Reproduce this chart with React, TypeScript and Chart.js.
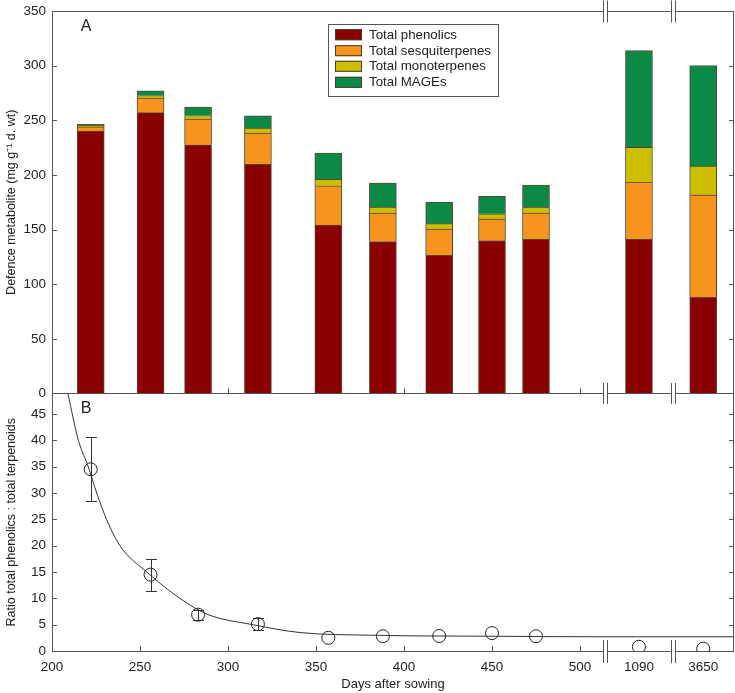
import React, { useEffect, useRef } from 'react';
import { Chart, registerables } from 'chart.js';

Chart.register(...registerables);

// ---------- data ----------
const days = [222, 256, 283, 317, 357, 388, 420, 450, 475, 1090, 3650];
const phenolics = [240, 257, 227.6, 209.6, 154, 139, 126.4, 140, 141, 141, 88];
const sesquiterpenes = [4, 13.3, 23.4, 28.7, 36, 26, 24, 19.6, 24, 52.5, 93.6];
const monoterpenes = [1.5, 2.4, 3.4, 4.6, 6, 5.6, 5, 4.8, 5.6, 31.7, 26.5];
const mages = [0.8, 4.3, 7.6, 11.1, 24, 22, 19.5, 16, 20, 88.6, 92];

const ratio = [34.5, 14.5, 6.9, 5.1, 2.5, 2.8, 2.85, 3.4, 2.8, 0.8, 0.45];
const ratioErrLow = [28.4, 11.3, 5.9, 4.0, null, null, null, null, null, null, null];
const ratioErrHigh = [40.6, 17.5, 7.8, 6.3, null, null, null, null, null, null, null];

// fitted curve (days, ratio)
const curveDays = [209, 215, 220.6, 225.4, 231, 238.6, 253.8, 272.7, 288, 314, 341, 381, 450, 514, 1090, 3650];
const curveRatio = [48.9, 40, 35, 30, 25, 20, 15, 10, 7, 5, 3.5, 3.0, 2.8, 2.7, 2.7, 2.7];

const xTickDays = [200, 250, 300, 350, 400, 450, 500, 1090, 3650];
const xTickLabels = ['200', '250', '300', '350', '400', '450', '500', '1090', '3650'];
const yATicks = [0, 50, 100, 150, 200, 250, 300, 350];
const yBTicks = [0, 5, 10, 15, 20, 25, 30, 35, 40, 45];

const seriesLabels = ['Total phenolics', 'Total sesquiterpenes', 'Total monoterpenes', 'Total MAGEs'];
const seriesColors = ['#8a0000', '#f7941e', '#cdbf00', '#0a8a45'];

// ---------- broken x axis ----------
const X_MIN = 200;
const X_MAX = 587.5;
const LINEAR_END = 514.2;
const breakMarks = [514.2, 552.8];
const longTermSlots: Record<number, number> = { 1090: 533.5, 3650: 570 };
const axisPos = (d: number) => (d <= LINEAR_END ? d : longTermSlots[d]);

const FONT = '"Liberation Sans", Arial, Helvetica, sans-serif';
const AXIS_COLOR = '#555';
const TEXT_COLOR = '#222';

const decorPlugin = {
  id: 'decor',
  beforeDatasetsDraw(chart: any) {
    const ctx = chart.ctx;
    const { left, right } = chart.chartArea;
    const x = chart.scales.x;
    const yA = chart.scales.yA;
    const yB = chart.scales.yB;
    ctx.save();
    ctx.strokeStyle = AXIS_COLOR;
    ctx.lineWidth = 1;
    const tl = 5;
    ctx.beginPath();
    for (const s of [yA, yB]) {
      for (const t of s.ticks) {
        const py = Math.round(s.getPixelForValue(t.value)) + 0.5;
        ctx.moveTo(left, py);
        ctx.lineTo(left + tl, py);
        ctx.moveTo(right, py);
        ctx.lineTo(right - tl, py);
      }
    }
    const yDiv = yA.getPixelForValue(0);
    const yBot = yB.getPixelForValue(0);
    for (const d of xTickDays) {
      if (d > LINEAR_END) continue;
      const px = Math.round(x.getPixelForValue(axisPos(d))) + 0.5;
      ctx.moveTo(px, yDiv);
      ctx.lineTo(px, yDiv - tl);
      ctx.moveTo(px, yBot);
      ctx.lineTo(px, yBot - tl);
    }
    ctx.stroke();

    // error bars
    ctx.strokeStyle = '#333';
    ctx.beginPath();
    days.forEach((d, i) => {
      const lo = ratioErrLow[i];
      const hi = ratioErrHigh[i];
      if (lo == null || hi == null) return;
      const px = Math.round(x.getPixelForValue(axisPos(d))) + 0.5;
      const pLo = Math.round(yB.getPixelForValue(lo)) + 0.5;
      const pHi = Math.round(yB.getPixelForValue(hi)) + 0.5;
      ctx.moveTo(px, pLo);
      ctx.lineTo(px, pHi);
      ctx.moveTo(px - 5.5, pLo);
      ctx.lineTo(px + 5.5, pLo);
      ctx.moveTo(px - 5.5, pHi);
      ctx.lineTo(px + 5.5, pHi);
    });
    ctx.stroke();
    ctx.restore();
  },
  afterDatasetsDraw(chart: any) {
    const ctx = chart.ctx;
    const { left, right, top } = chart.chartArea;
    const x = chart.scales.x;
    const yA = chart.scales.yA;
    const yB = chart.scales.yB;
    const yDiv = Math.round(yA.getPixelForValue(0)) + 0.5;
    const yBot = Math.round(yB.getPixelForValue(0)) + 0.5;
    const yTop = Math.round(top) + 0.5;
    const xl = Math.round(left) + 0.5;
    const xr = Math.round(right) - 0.5;
    ctx.save();
    ctx.strokeStyle = AXIS_COLOR;
    ctx.lineWidth = 1;
    ctx.beginPath();
    ctx.moveTo(xl, yTop);
    ctx.lineTo(xr, yTop);
    ctx.lineTo(xr, yBot);
    ctx.lineTo(xl, yBot);
    ctx.lineTo(xl, yTop);
    ctx.moveTo(xl, yDiv);
    ctx.lineTo(xr, yDiv);
    ctx.stroke();

    // axis breaks
    for (const b of breakMarks) {
      const px = Math.round(x.getPixelForValue(b));
      for (const [yy, h] of [[yTop, 11], [yDiv, 10.5], [yBot, 11.5]] as [number, number][]) {
        ctx.fillStyle = '#fff';
        ctx.fillRect(px - 1.5, yy - 1.5, 4, 3);
        ctx.beginPath();
        ctx.moveTo(px - 1.5, yy - h);
        ctx.lineTo(px - 1.5, yy + h);
        ctx.moveTo(px + 2.5, yy - h);
        ctx.lineTo(px + 2.5, yy + h);
        ctx.stroke();
      }
    }

    // panel letters
    ctx.fillStyle = TEXT_COLOR;
    ctx.font = `16px ${FONT}`;
    ctx.textAlign = 'center';
    ctx.textBaseline = 'middle';
    ctx.fillText('A', 86, yTop + 15);
    ctx.fillText('B', 86, yDiv + 15);

    // legend
    const lx = 328.5, ly = 24.5, lw = 170, lh = 72;
    ctx.fillStyle = '#fff';
    ctx.fillRect(lx, ly, lw, lh);
    ctx.strokeStyle = '#555';
    ctx.strokeRect(lx, ly, lw, lh);
    ctx.font = `13.3px ${FONT}`;
    ctx.textAlign = 'left';
    const rows = [34.7, 50.7, 66.3, 82.3];
    chart.data.datasets.slice(0, 4).forEach((ds: any, i: number) => {
      const cy = rows[i];
      ctx.fillStyle = ds.backgroundColor;
      ctx.fillRect(335, cy - 5.5, 27, 11);
      ctx.strokeStyle = '#4a3a2a';
      ctx.strokeRect(335.5, cy - 5, 26, 10);
      ctx.fillStyle = TEXT_COLOR;
      ctx.fillText(ds.label, 369, cy + 0.5);
    });
    ctx.restore();
  },
};

export default function App() {
  const ref = useRef<HTMLCanvasElement | null>(null);

  useEffect(() => {
    if (!ref.current) return;
    const barSets = [phenolics, sesquiterpenes, monoterpenes, mages].map((vals, i) => ({
      type: 'bar' as const,
      label: seriesLabels[i],
      data: days.map((d, j) => ({ x: axisPos(d), y: vals[j] })),
      backgroundColor: seriesColors[i],
      borderColor: 'rgba(60,40,25,0.85)',
      borderWidth: 1,
      barThickness: 27,
      stack: 'total',
      xAxisID: 'x',
      yAxisID: 'yA',
      order: 3,
    }));

    const chart = new Chart(ref.current, {
      type: 'bar',
      data: {
        datasets: [
          ...barSets,
          {
            type: 'line',
            label: 'fit',
            data: curveDays.map((d, j) => ({ x: axisPos(d), y: curveRatio[j] })).concat([{ x: X_MAX, y: curveRatio[curveRatio.length - 1] }]),
            borderColor: '#333',
            borderWidth: 1,
            pointRadius: 0,
            cubicInterpolationMode: 'monotone',
            fill: false,
            xAxisID: 'x',
            yAxisID: 'yB',
            order: 2,
          } as any,
          {
            type: 'line',
            label: 'ratio',
            data: days.map((d, j) => ({ x: axisPos(d), y: ratio[j] })),
            showLine: false,
            pointRadius: 6.5,
            pointBorderWidth: 1,
            pointBorderColor: '#222',
            pointBackgroundColor: 'rgba(255,255,255,0)',
            xAxisID: 'x',
            yAxisID: 'yB',
            order: 1,
          } as any,
        ],
      },
      options: {
        responsive: false,
        animation: false,
        events: [],
        layout: { autoPadding: false, padding: { top: 11, right: 1, left: 0, bottom: 0 } },
        plugins: { legend: { display: false }, tooltip: { enabled: false } },
        scales: {
          x: {
            type: 'linear',
            position: 'bottom',
            offset: false,
            min: X_MIN,
            max: X_MAX,
            grid: { display: false, drawTicks: false, offset: false },
            border: { display: false },
            afterBuildTicks: (s: any) => {
              s.ticks = xTickDays.map((d) => ({ value: axisPos(d) }));
            },
            afterFit: (s: any) => {
              s.height = 42;
              s.paddingLeft = 0;
              s.paddingRight = 0;
            },
            ticks: {
              padding: 8,
              color: TEXT_COLOR,
              font: { family: FONT, size: 13.5 },
              maxRotation: 0,
              autoSkip: false,
              callback: (_v: any, i: number) => xTickLabels[i],
            },
            title: {
              display: true,
              text: 'Days after sowing',
              color: TEXT_COLOR,
              font: { family: FONT, size: 13 },
              padding: { top: 0, bottom: 1 },
            },
          },
          yB: {
            type: 'linear',
            position: 'left',
            stack: 'panels',
            stackWeight: 257.7,
            min: 0,
            max: 48.9,
            grid: { display: false, drawTicks: false },
            border: { display: false },
            afterBuildTicks: (s: any) => {
              s.ticks = yBTicks.map((v) => ({ value: v }));
            },
            afterFit: (s: any) => {
              s.width = 52;
              s.paddingTop = 0;
              s.paddingBottom = 0;
            },
            ticks: { padding: 6, autoSkip: false, color: TEXT_COLOR, font: { family: FONT, size: 13.5 } },
            title: {
              display: true,
              text: 'Ratio total phenolics : total terpenoids',
              color: TEXT_COLOR,
              font: { family: FONT, size: 12.5 },
              padding: { top: 4, bottom: 0 },
            },
          },
          yA: {
            type: 'linear',
            position: 'left',
            stack: 'panels',
            stackWeight: 382.7,
            stacked: true,
            min: 0,
            max: 350,
            grid: { display: false, drawTicks: false },
            border: { display: false },
            afterBuildTicks: (s: any) => {
              s.ticks = yATicks.map((v) => ({ value: v }));
            },
            afterFit: (s: any) => {
              s.width = 52;
              s.paddingTop = 0;
              s.paddingBottom = 0;
            },
            ticks: { padding: 6, autoSkip: false, color: TEXT_COLOR, font: { family: FONT, size: 13.5 } },
            title: {
              display: true,
              text: 'Defence metabolite (mg g⁻¹ d. wt)',
              color: TEXT_COLOR,
              font: { family: FONT, size: 12.5 },
              padding: { top: 4, bottom: 0 },
            },
          },
        },
      } as any,
      plugins: [decorPlugin],
    });
    return () => chart.destroy();
  }, []);

  return (
    <div style={{ position: 'absolute', left: 0, top: 0, width: 735, height: 693, background: '#fff' }}>
      <canvas ref={ref} width={735} height={693} style={{ display: 'block' }} />
    </div>
  );
}
